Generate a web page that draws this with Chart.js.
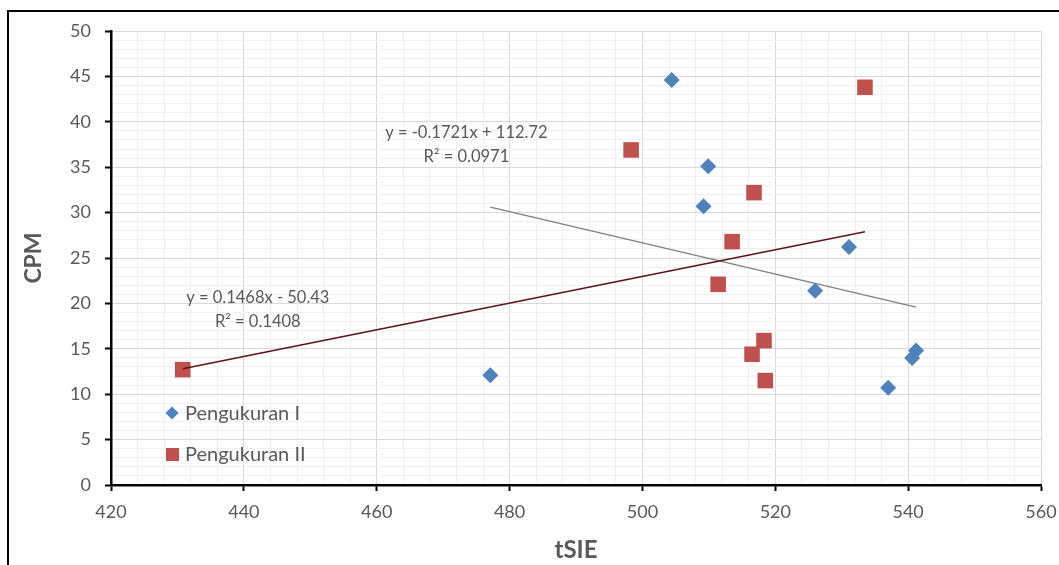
<!DOCTYPE html>
<html>
<head>
<meta charset="utf-8">
<script src="https://cdn.jsdelivr.net/npm/chart.js@4.4.0/dist/chart.umd.min.js"></script>
<style>
  html, body { margin: 0; padding: 0; background: #fff; }
</style>
</head>
<body>
<canvas id="chart" width="1059" height="565"></canvas>
<script>
// ----------------------
// Datos
// ----------------------
const seriesNames = ['Pengukuran I', 'Pengukuran II'];

const tsieI = [504.4, 509.9, 509.2, 531.1, 526.0, 541.2, 540.6, 537.0, 477.1];
const cpmI  = [44.6, 35.1, 30.7, 26.2, 21.4, 14.8, 14.0, 10.7, 12.1];

const tsieII = [430.8, 498.3, 533.5, 516.8, 513.5, 511.4, 518.3, 516.5, 518.5];
const cpmII  = [12.7, 36.9, 43.8, 32.2, 26.8, 22.1, 15.9, 14.4, 11.5];

// lineas de tendencia (ecuaciones)
const trendSlope     = [-0.1721, 0.1468];
const trendIntercept = [112.72, -50.43];
const trendLabels    = ['y = -0.1721x + 112.72', 'y = 0.1468x - 50.43'];
const trendR2Labels  = ['R² = 0.0971', 'R² = 0.1408'];
// donde va el texto de cada ecuacion (coordenadas de datos)
const trendLabelX = [473.5, 442.1];
const trendLabelY = [38.8, 20.6];

const xTicksMajor = 20, yTicksMajor = 5;

const FONT = 'Lato, "Open Sans", sans-serif';
const GREY = '#595959';
const BLUE = '#4f81bd';
const RED = '#c0504d';

const toPoints = (xs, ys) => xs.map((x, i) => ({ x, y: ys[i] }));

function trendPoints(xs, k) {
  const lo = Math.min(...xs), hi = Math.max(...xs);
  return [lo, hi].map(x => ({ x, y: trendSlope[k] * x + trendIntercept[k] }));
}

// ----------------------
// Marco, leyenda y ecuaciones
// ----------------------
const extras = {
  id: 'extras',
  beforeDraw(chart) {
    const ctx = chart.ctx;
    ctx.save();
    ctx.fillStyle = '#fff';
    ctx.fillRect(0, 0, chart.width, chart.height);
    ctx.strokeStyle = '#000';
    ctx.lineWidth = 2;
    ctx.strokeRect(8, 11, chart.width + 20, chart.height + 20);
    ctx.restore();
  },
  afterDraw(chart) {
    const ctx = chart.ctx;
    const { x, y } = chart.scales;
    const area = chart.chartArea;
    ctx.save();

    // ecuaciones
    ctx.fillStyle = GREY;
    ctx.font = '16.5px ' + FONT;
    ctx.textAlign = 'center';
    ctx.textBaseline = 'middle';
    for (let k = 0; k < 2; k++) {
      const px = x.getPixelForValue(trendLabelX[k]);
      const py = y.getPixelForValue(trendLabelY[k]);
      ctx.fillText(trendLabels[k], px, py);
      ctx.fillText(trendR2Labels[k], px, py + 24);
    }

    // leyenda
    const lx = area.left + 61, ly = area.top + 382;
    ctx.font = '20px ' + FONT;
    ctx.textAlign = 'left';
    ctx.fillStyle = BLUE;
    ctx.beginPath();
    ctx.moveTo(lx, ly - 6.5); ctx.lineTo(lx + 6.5, ly); ctx.lineTo(lx, ly + 6.5); ctx.lineTo(lx - 6.5, ly);
    ctx.closePath(); ctx.fill();
    ctx.fillStyle = RED;
    ctx.fillRect(lx - 6, ly + 35, 13, 13);
    ctx.fillStyle = GREY;
    ctx.fillText(seriesNames[0], lx + 13, ly + 1);
    ctx.fillText(seriesNames[1], lx + 13, ly + 42);
    ctx.restore();
  }
};

const gridColor = step => c => (c.tick && c.tick.value % step === 0) ? '#d9d9d9' : '#f0f0f0';
const tickColor = step => c => (c.tick && c.tick.value % step === 0) ? '#000' : 'rgba(0,0,0,0)';

new Chart(document.getElementById('chart'), {
  type: 'scatter',
  data: {
    datasets: [
      {
        label: seriesNames[0],
        data: toPoints(tsieI, cpmI),
        pointStyle: 'rectRot', pointRadius: 8, pointHoverRadius: 8,
        backgroundColor: BLUE, borderColor: BLUE, borderWidth: 0,
        order: 2
      },
      {
        label: seriesNames[1],
        data: toPoints(tsieII, cpmII),
        pointStyle: 'rect', pointRadius: 11, pointHoverRadius: 11,
        backgroundColor: RED, borderColor: RED, borderWidth: 0,
        order: 2
      },
      {
        label: 'trend I',
        data: trendPoints(tsieI, 0),
        showLine: true, pointRadius: 0,
        borderColor: '#7f7f7f', borderWidth: 1.3,
        order: 1
      },
      {
        label: 'trend II',
        data: trendPoints(tsieII, 1),
        showLine: true, pointRadius: 0,
        borderColor: '#5e1414', borderWidth: 1.6,
        order: 0
      }
    ]
  },
  options: {
    responsive: false,
    animation: false,
    layout: { padding: { top: 31, right: 18, left: 0, bottom: 0 } },
    plugins: { legend: { display: false }, tooltip: { enabled: false } },
    scales: {
      x: {
        type: 'linear', min: 420, max: 560,
        ticks: {
          stepSize: 4, autoSkip: false, maxRotation: 0,
          callback: v => v % xTicksMajor === 0 ? v : '',
          color: GREY, font: { family: FONT, size: 18 }, padding: 10
        },
        grid: { color: gridColor(xTicksMajor), tickColor: tickColor(xTicksMajor), tickLength: 6, tickWidth: 2 },
        border: { color: '#000', width: 2.5 },
        title: { display: true, text: 'tSIE', color: GREY, font: { family: FONT, size: 24, weight: 'bold' }, padding: { top: 2, bottom: 0 } },
        afterFit: s => { s.height = 80; s.paddingLeft = 0; s.paddingRight = 0; }
      },
      y: {
        min: 0, max: 50,
        ticks: {
          stepSize: 1, autoSkip: false,
          callback: v => v % yTicksMajor === 0 ? v : '',
          color: GREY, font: { family: FONT, size: 18 }, padding: 14
        },
        grid: { color: gridColor(yTicksMajor), tickColor: tickColor(yTicksMajor), tickLength: 6, tickWidth: 2 },
        border: { color: '#000', width: 2.5 },
        title: { display: true, text: 'CPM', color: GREY, font: { family: FONT, size: 23, weight: 'bold' }, padding: { top: 20, bottom: 0 } },
        afterFit: s => { s.width = 111; s.paddingTop = 0; s.paddingBottom = 0; }
      }
    }
  },
  plugins: [extras]
});
</script>
</body>
</html>
